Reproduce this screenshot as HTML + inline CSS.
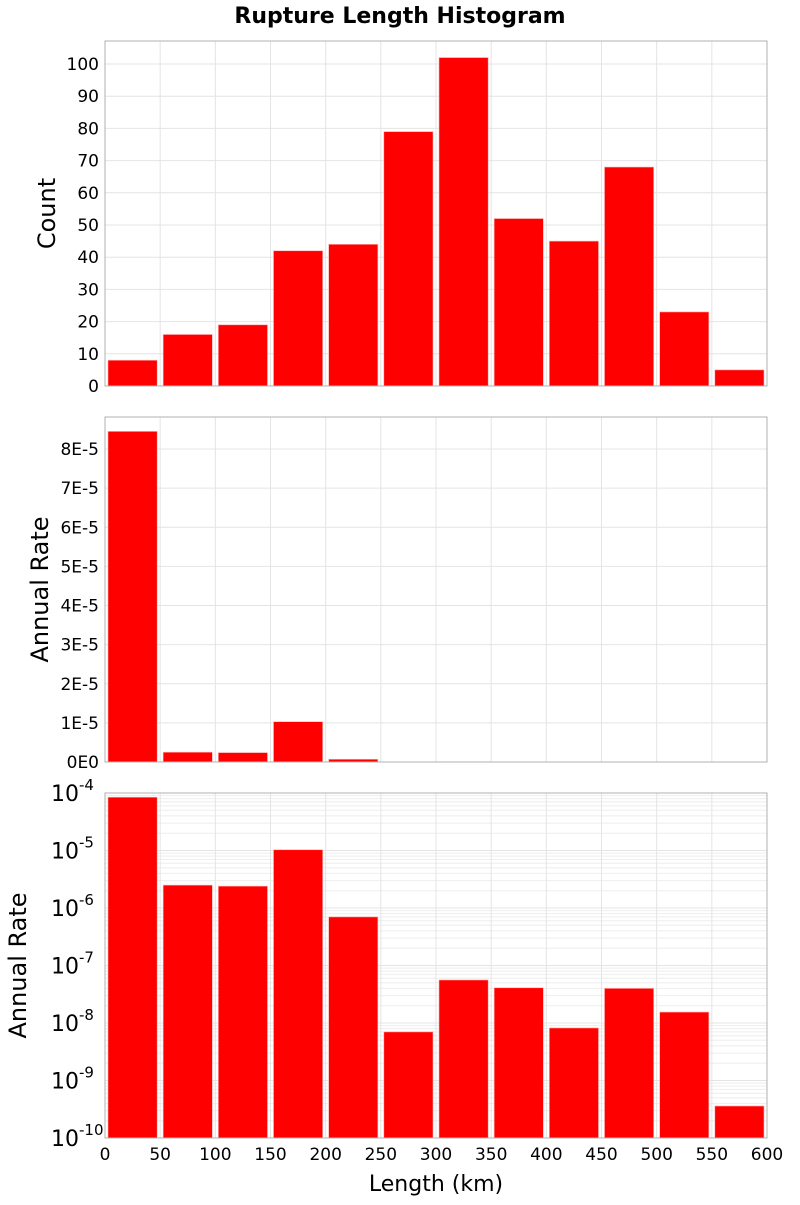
<!DOCTYPE html>
<html><head><meta charset="utf-8"><style>
body{margin:0;background:#fff;font-family:"Liberation Sans","DejaVu Sans",sans-serif}
svg text{font-family:"DejaVu Sans","Liberation Sans",sans-serif;fill:#000}
</style></head><body>
<svg id="c" width="800" height="1200" xmlns="http://www.w3.org/2000/svg">
<text x="400" y="23" text-anchor="middle" font-size="22" font-weight="bold">Rupture Length Histogram</text>
<text x="436" y="1191" text-anchor="middle" font-size="22">Length (km)</text>
</svg>
<script>
const binStarts=[0,50,100,150,200,250,300,350,400,450,500,550];
const counts=[8,16,19,42,44,79,102,52,45,68,23,5];
const rates=[8.45e-5,2.5e-6,2.4e-6,1.03e-5,7e-7,7e-9,5.6e-8,4.1e-8,8.2e-9,4e-8,1.55e-8,3.6e-10];
const xTicks=[0,50,100,150,200,250,300,350,400,450,500,550,600];
const countTicks=[0,10,20,30,40,50,60,70,80,90,100];
const rateTicks=[0,1e-5,2e-5,3e-5,4e-5,5e-5,6e-5,7e-5,8e-5];
const rateTickLabels=["0E0","1E-5","2E-5","3E-5","4E-5","5E-5","6E-5","7E-5","8E-5"];
const logTicks=[-10,-9,-8,-7,-6,-5,-4];
const svg=document.getElementById('c');const NS='http://www.w3.org/2000/svg';
const L=105,R=767;
const x=v=>L+(v-0)/(600-0)*(R-L);
function mk(t,a,p){const e=document.createElementNS(NS,t);for(const k in a)e.setAttribute(k,a[k]);(p||svg).appendChild(e);return e;}
function panel(top,bot,name,yfun,ticks,labels,title,vals,isLog,titleX){
  const g=mk('g',{});
  
  
  if(isLog){for(let d=-10;d<-4;d++)for(let m=2;m<10;m++){const y=yfun(Math.pow(10,d)*m);const ln=mk('line',{x1:L,x2:R,y1:y,y2:y,stroke:'#eeeeee','stroke-width':1},g);}}
  ticks.forEach((t,i)=>{const y=yfun(isLog?Math.pow(10,t):t);
    const ln=mk('line',{x1:L,x2:R,y1:y,y2:y,stroke:'#e4e4e4','stroke-width':1},g);
    
    if(isLog){const tx=mk('text',{x:L-26,y:y+8,'text-anchor':'end','font-size':22},g);tx.textContent='10';
      
      const sp=mk('text',{x:L-26,y:y-3,'font-size':15},g);sp.textContent=String(t);
      }
    else{const tx=mk('text',{x:L-6,y:y+6,'text-anchor':'end','font-size':17},g);tx.textContent=labels[i];
      }
  });
  xTicks.forEach(t=>{const ln=mk('line',{x1:x(t),x2:x(t),y1:top,y2:bot,stroke:'#e4e4e4'},g);
    });
  vals.forEach((v,i)=>{const x0=x(binStarts[i])+3,x1=x(binStarts[i]+50)-3;
    let yt=yfun(v);if(yt<top)yt=top;const r=mk('rect',{x:x0,y:yt,width:x1-x0,height:Math.max(0,bot-yt),fill:'#ff0000',stroke:'#ffb0b0','stroke-width':0.6},g);
    });
  const fr=mk('rect',{x:L,y:top,width:R-L,height:bot-top,fill:'none',stroke:'#b0b0b0'},g);
  
  const cy=(top+bot)/2;const tt=mk('text',{x:titleX,y:cy,'text-anchor':'middle','font-size':24,transform:`rotate(-90 ${titleX} ${cy})`},g);
  tt.textContent=title;
}
const y1=v=>386-v*(386-64)/100;
panel(41,386,'count-panel',y1,countTicks,countTicks.map(String),'Count',counts,false,55);
const y2=v=>762-v*(762-449)/8e-5;
panel(417,762,'rate-linear-panel',y2,rateTicks,rateTickLabels,'Annual Rate',rates,false,48);
const y3=v=>793+(-4-Math.log10(v))*(1138-793)/6;
panel(793,1138,'rate-log-panel',y3,logTicks,null,'Annual Rate',rates,true,26);
xTicks.forEach(t=>{const tx=mk('text',{x:x(t),y:1160,'text-anchor':'middle','font-size':17});tx.textContent=String(t);
  });
</script>
</body></html>
